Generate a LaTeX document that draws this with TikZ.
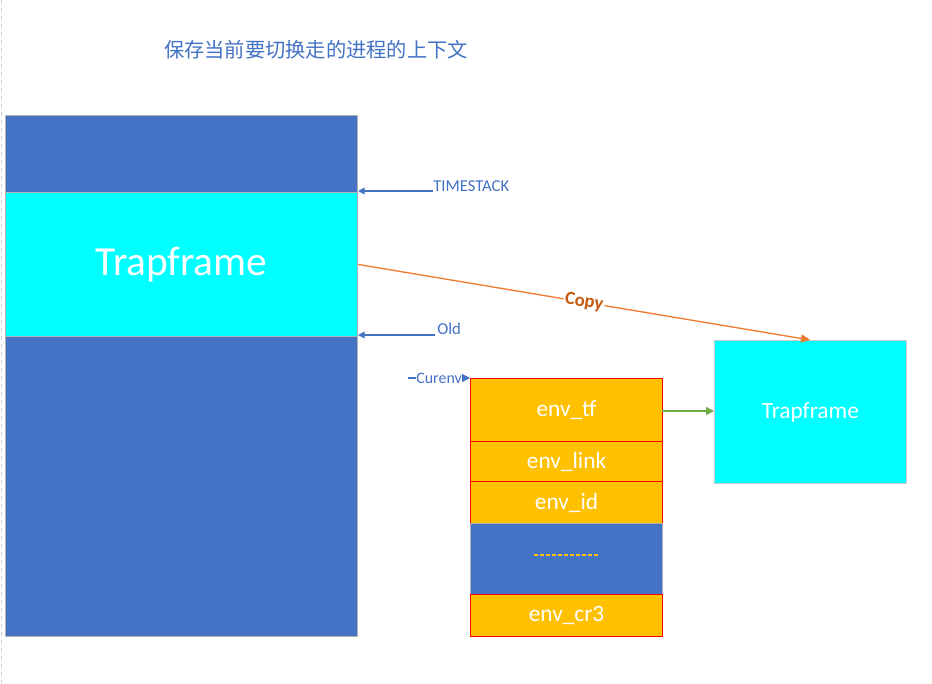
\documentclass[tikz,border=0pt]{standalone}
\usepackage{fontspec}
\setmainfont{Carlito}
\newfontfamily\cjk{Noto Sans CJK SC}
\usetikzlibrary{arrows.meta}
\definecolor{mblue}{HTML}{4472C4}
\definecolor{mcyan}{HTML}{00FFFF}
\definecolor{morange}{HTML}{FFC000}
\definecolor{mline}{HTML}{ED7D31}
\definecolor{mcopy}{HTML}{C55A11}
\definecolor{mgreen}{HTML}{70AD47}
\begin{document}
\begin{tikzpicture}[x=0.75pt,y=-0.75pt,
  blk/.style={draw=gray!60,line width=0.6pt,inner sep=0pt,anchor=north west},
  fld/.style={draw=red,fill=morange,line width=0.8pt,inner sep=0pt,anchor=north west,text=white,font=\fontsize{17.5}{20}\selectfont},
  lbl/.style={text=mblue,font=\fontsize{12.5}{14}\selectfont,inner sep=0pt},
  ptr/.style={draw=mblue,line width=1pt,-{Triangle[length=5pt,width=5pt]}}]
\useasboundingbox (0,0) rectangle (932,683);
\fill[white] (0,0) rectangle (932,683);
\draw[gray!35,dashed,line width=0.6pt] (1,0) -- (1,683);
% title
\node[text=mblue,font=\cjk\fontsize{15.2}{18}\selectfont,inner sep=0pt] (title) at (316,50) {保存当前要切换走的进程的上下文};
% left stack
\node[blk,fill=mblue,minimum width=352*0.75pt,minimum height=77*0.75pt] (top) at (5,115) {};
\node[blk,fill=mcyan,minimum width=352*0.75pt,minimum height=144*0.75pt,text=white,font=\fontsize{31}{35}\selectfont] (tf) at (5,192) {Trapframe};
\node[blk,fill=mblue,minimum width=352*0.75pt,minimum height=300*0.75pt] (bot) at (5,336) {};
% labels with arrows
\node[lbl,anchor=west] (ts) at (433,186) {TIMESTACK};
\coordinate (tsA) at (433,191);
\coordinate (tsB) at (358,191);
\draw[ptr] (tsA) -- (tsB);
\node[lbl,anchor=west] (old) at (437,329) {Old};
\coordinate (oldA) at (435,335);
\coordinate (oldB) at (358,335);
\draw[ptr] (oldA) -- (oldB);
% env struct
\node[fld,minimum width=192*0.75pt,minimum height=63*0.75pt] (etf) at (470,378) {env\_tf};
\node[fld,minimum width=192*0.75pt,minimum height=40*0.75pt] (elink) at (470,441) {env\_link};
\node[fld,minimum width=192*0.75pt,minimum height=42*0.75pt] (eid) at (470,481) {env\_id};
\node[blk,fill=mblue,minimum width=192*0.75pt,minimum height=71*0.75pt] (edots) at (470,523) {};
\draw[morange,dashed,dash pattern=on 3pt off 1.5pt,line width=1pt] (534,555) -- (600,555);
\node[fld,minimum width=192*0.75pt,minimum height=42*0.75pt] (ecr) at (470,594) {env\_cr3};
% Curenv
\coordinate (cA) at (408,378);
\node[lbl,anchor=west,font=\fontsize{12}{14}\selectfont] (cur) at (416,378) {Curenv};
\draw[mblue,line width=1pt] (cA) -- (cur.west);
\draw[ptr,-{Triangle[length=6pt,width=6pt]}] (cur.east) -- (etf.north west);
% right trapframe
\node[draw=gray!40,fill=mcyan,line width=0.6pt,inner sep=0pt,anchor=north west,minimum width=192*0.75pt,minimum height=143*0.75pt,text=white,font=\fontsize{17.5}{20}\selectfont] (rtf) at (714,340) {Trapframe};
\coordinate (gA) at (662,411);
\draw[mgreen,line width=1pt,-{Triangle[length=6pt,width=6pt]}] (gA) -- (rtf.west |- gA);
% copy arrow
\draw[mline,line width=1pt,-{Triangle[length=7pt,width=6pt]}] (tf.east) -- node[sloped,fill=white,inner sep=1pt,text=mcopy,font=\bfseries\fontsize{14}{16}\selectfont,pos=0.5] {Copy} (rtf.north);
\end{tikzpicture}
\end{document}
